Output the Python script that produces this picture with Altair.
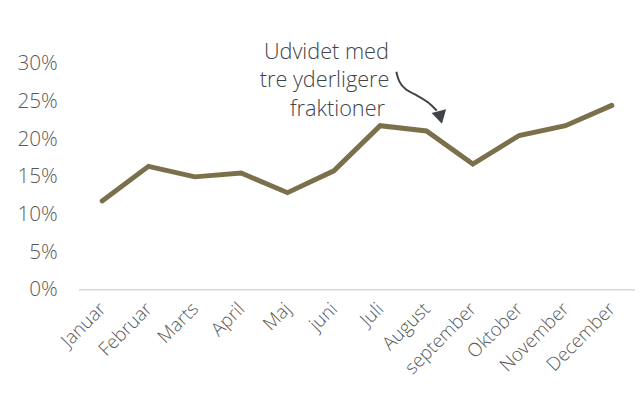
import altair as alt
import pandas as pd

months = ["Januar", "Februar", "Marts", "April", "Maj", "juni", "Juli",
          "August", "september", "Oktober", "November", "December"]
values = [11.8, 16.4, 15.0, 15.5, 12.9, 15.8, 21.8, 21.1, 16.7, 20.5, 21.8, 24.5]

note_lines = ["Udvidet med", "tre yderligere", "fraktioner"]
note_y = [31.6, 27.8, 24.0]
note_idx = [4.84, 4.80, 5.08]

# annotation arrow path (month index, percent)
arrow_idx = [6.35, 6.40, 6.53, 6.80, 7.05, 7.22]
arrow_pct = [28.96, 27.65, 26.61, 25.82, 24.90, 23.80]
head_idx = [7.30]
head_pct = [22.9]

FONT = "Open Sans"
LINE = "#7b704b"
GRAY = "#595959"
DARK = "#404347"

df = pd.DataFrame({"month": months, "value": [v / 100 for v in values]})

x = alt.X("month:N", sort=months, scale=alt.Scale(type="point", padding=0.5),
          axis=alt.Axis(title=None, labelAngle=-45, labelAlign="right", labelBaseline="middle",
                        labelFontSize=19, labelPadding=16, ticks=False, domain=False, grid=False,
                        labelOverlap=False))
yscale = alt.Scale(domain=[0, 0.3], nice=False)
yaxis = alt.Axis(title=None, format=".0%", values=[0, 0.05, 0.1, 0.15, 0.2, 0.25, 0.3],
                 labelFontSize=21, labelPadding=22, ticks=False, domain=False, grid=False)

line = alt.Chart(df).mark_line(color=LINE, strokeWidth=5, strokeCap="round", strokeJoin="miter").encode(
    x=x, y=alt.Y("value:Q", scale=yscale, axis=yaxis))

base_rule = alt.Chart(pd.DataFrame({"value": [0.0]})).mark_rule(color="#d9d9d9", strokeWidth=1.5).encode(
    y=alt.Y("value:Q", scale=yscale, axis=yaxis))

xq = alt.Scale(domain=[0, 11], range=[23.5, 540.5])

note_df = pd.DataFrame({"t": note_lines, "value": [v / 100 for v in note_y], "i": note_idx})
note = alt.Chart(note_df).mark_text(font=FONT, fontSize=22, fontWeight=300, color=DARK, align="center",
                                    baseline="middle").encode(
    x=alt.X("i:Q", scale=xq, axis=None), y=alt.Y("value:Q", scale=yscale, axis=yaxis), text="t:N")

arrow_df = pd.DataFrame({"i": arrow_idx, "value": [v / 100 for v in arrow_pct], "o": list(range(len(arrow_idx)))})
arrow = alt.Chart(arrow_df).mark_line(color=DARK, strokeWidth=2, interpolate="basis").encode(
    x=alt.X("i:Q", scale=xq, axis=None), y=alt.Y("value:Q", scale=yscale, axis=yaxis), order="o:Q")

head_df = pd.DataFrame({"i": head_idx, "value": [v / 100 for v in head_pct]})
head = alt.Chart(head_df).mark_point(shape="triangle-down", filled=True, color=DARK, size=230,
                                     angle=346, opacity=1).encode(
    x=alt.X("i:Q", scale=xq, axis=None), y=alt.Y("value:Q", scale=yscale, axis=yaxis))

chart = alt.layer(line, base_rule, note, arrow, head).resolve_scale(x="independent").properties(
    width=564, height=229,
    autosize=alt.AutoSizeParams(type="none"),
    padding={"left": 72, "top": 54, "right": 0, "bottom": 105},
).configure_view(stroke=None).configure_axis(
    labelFont=FONT, labelFontWeight=300, labelColor=GRAY)

chart.save("out.html", embed_options={"renderer": "svg", "actions": False})
